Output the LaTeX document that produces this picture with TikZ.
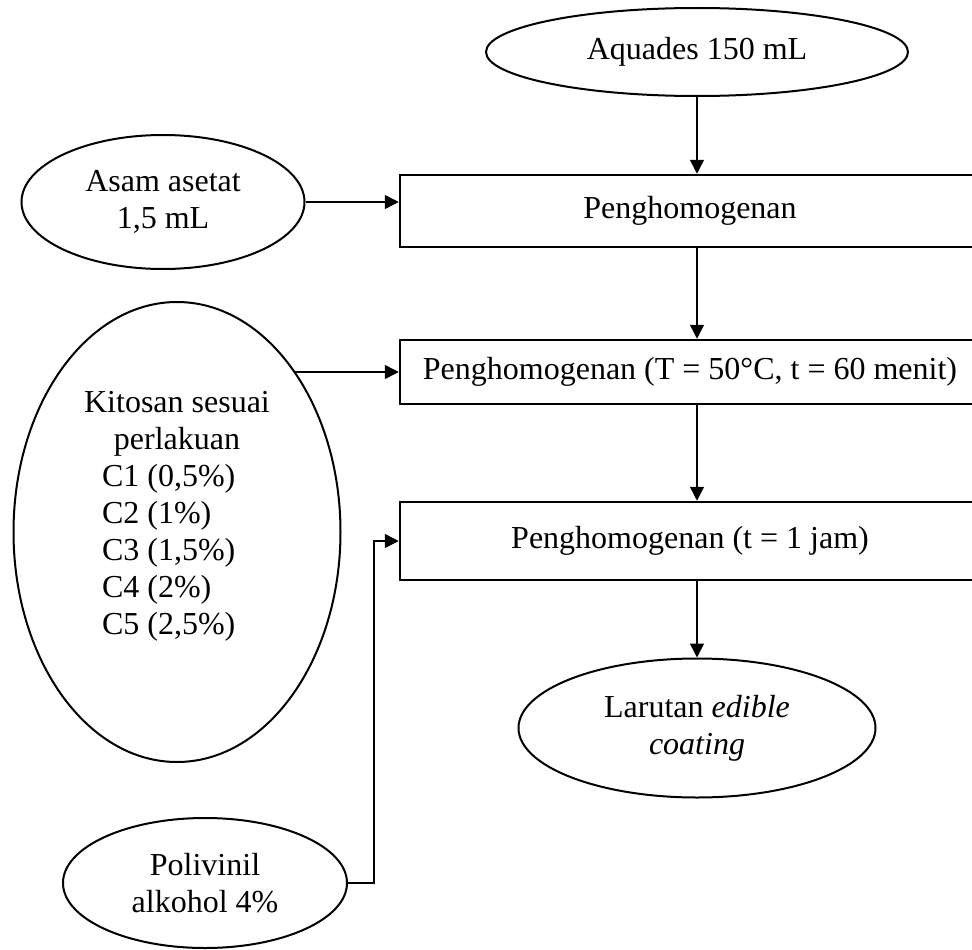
\documentclass[tikz,border=0pt]{standalone}
\usepackage{fontspec}
\setmainfont{Liberation Serif}
\usetikzlibrary{arrows.meta,positioning,shapes.geometric}

\begin{document}
\begin{tikzpicture}[
x=1pt, y=-1pt,
Bubble/.style={draw, ellipse, line width=2pt, inner sep=0pt, align=center},
StepBox/.style={draw, rectangle, line width=2.5pt, minimum width=580pt, minimum height=#1, inner sep=0pt},
Flow/.style={-{Triangle[length=14pt, width=14pt]}, line width=1.5pt},
every node/.style={font=\fontsize{32pt}{37pt}\selectfont}
]
\useasboundingbox (0,0) rectangle (972,950);

% bahan masuk
\node[Bubble, minimum width=422pt, minimum height=88pt] (aquades) at (697,52) {Aquades 150 mL};
\node[Bubble, minimum width=283pt, minimum height=134pt] (asam) at (163,202) {Asam asetat\\1,5 mL};
\node[Bubble, minimum width=327pt, minimum height=460pt] (kitosan) at (177,532) {};
\node[align=center] (kitosanText) at (177,516) {Kitosan sesuai\\perlakuan\\
\makebox[150pt][l]{C1 (0,5\%)}\\\makebox[150pt][l]{C2 (1\%)}\\\makebox[150pt][l]{C3 (1,5\%)}\\
\makebox[150pt][l]{C4 (2\%)}\\\makebox[150pt][l]{C5 (2,5\%)}};
\node[Bubble, minimum width=284pt, minimum height=130pt] (polivinil) at (205,883) {Polivinil\\alkohol 4\%};

% tahap proses
\node[StepBox=72pt] (stepA) at (690,211) {Penghomogenan};
\node[StepBox=64pt] (stepB) at (690,372) {Penghomogenan (T = 50°C, t = 60 menit)};
\node[StepBox=78pt] (stepC) at (690,541) {Penghomogenan (t = 1 jam)};

% hasil
\node[Bubble, minimum width=357pt, minimum height=139pt] (larutan) at (697,728) {Larutan \textit{edible}\\\textit{coating}};

\draw[Flow] (aquades.south) -- (aquades.south |- stepA.north);
\draw[Flow] (stepA.south -| aquades.south) -- (stepB.north -| aquades.south);
\draw[Flow] (stepB.south -| aquades.south) -- (stepC.north -| aquades.south);
\draw[Flow] (stepC.south -| larutan.north) -- (larutan.north);

\draw[Flow] (asam.east) -- (asam.east -| stepA.west);
\draw[Flow] (stepB.west -| kitosan.54) -- (stepB.west);
\draw[Flow] (polivinil.east) -| ([xshift=-25pt]stepC.west) -- (stepC.west);

\end{tikzpicture}
\end{document}
